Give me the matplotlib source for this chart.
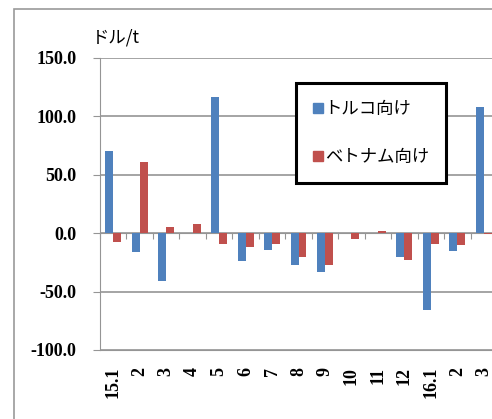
import numpy as np
import matplotlib.pyplot as plt
from matplotlib.patches import Patch, Rectangle

# monthly price change, dollars per tonne
months = ['15.1', '2', '3', '4', '5', '6', '7', '8', '9', '10', '11', '12',
          '16.1', '2', '3']
turkey = [70, -16.5, -41, 0, 117, -24, -14.5, -27.5, -33.5, 0, 0, -20.5,
          -66, -15.5, 108]
vietnam = [-7.5, 61, 5, 7.5, -9, -12, -9, -20.5, -27.5, -5, 1.5, -23,
           -9, -10, -1]
yticks = [-100, -50, 0, 50, 100, 150]

blue = '#4F81BD'
red = '#C0504D'
grid = '#959595'
jp = ['Noto Sans CJK JP', 'DejaVu Sans']
num_font = dict(family='Liberation Serif', weight='bold', size=13)

fig = plt.figure(figsize=(4.92, 4.19), dpi=100)

# outer chart frame (runs off the right and bottom edges)
fig.patches.append(Rectangle((14 / 492, -0.2), 1.2, 1 - 9 / 419 + 0.2,
                             transform=fig.transFigure, fill=False,
                             edgecolor='#9a9a9a', linewidth=1.2))

ax = fig.add_axes([100 / 492, 69 / 419, 397 / 492, 292 / 419])

x = np.arange(len(months))
w = 0.3
ax.bar(x - w / 2, turkey, w, color=blue, zorder=3)
ax.bar(x + w / 2, vietnam, w, color=red, zorder=3)

ax.set_xlim(-0.5, len(months) - 0.5)
ax.set_ylim(-100, 150)
ax.set_yticks(yticks)
ax.set_yticklabels([f'{v:.1f}' for v in yticks], fontdict=num_font)
ax.yaxis.grid(True, color=grid, linewidth=1.2)
ax.set_axisbelow(True)

for s in ['top', 'right']:
    ax.spines[s].set_visible(False)
ax.spines['left'].set_color(grid)
ax.spines['bottom'].set_position(('data', 0))
ax.spines['bottom'].set_color(grid)
ax.tick_params(axis='y', colors=grid, length=5, pad=12, labelcolor='black')

# category separators on the zero line, labels under the plot
ax.set_xticks(np.arange(len(months) + 1) - 0.5)
ax.tick_params(axis='x', colors=grid, length=4, labelbottom=False)
sec = ax.secondary_xaxis('bottom')
sec.set_xticks(x)
sec.set_xticklabels(months, rotation=90, fontdict=num_font, va='top')
sec.tick_params(length=0, pad=12)
sec.spines['bottom'].set_color(grid)

fig.text(92 / 492, 1 - 29 / 419, 'ドル/t', family=jp, fontsize=12.5,
         va='top', ha='left')

handles = [Patch(color=blue, label='トルコ向け'),
           Patch(color=red, label='ベトナム向け')]
leg = fig.legend(handles=handles, loc='upper left',
                 bbox_to_anchor=(296 / 492, 1 - 83 / 419),
                 prop={'family': jp, 'size': 12.5},
                 handlelength=0.55, handleheight=0.55, handletextpad=0.1,
                 labelspacing=1.7, borderpad=1.0, borderaxespad=0,
                 fancybox=False, framealpha=1)
leg.get_frame().set_edgecolor('black')
leg.get_frame().set_linewidth(2.2)

fig.savefig('out.png', dpi=100)
